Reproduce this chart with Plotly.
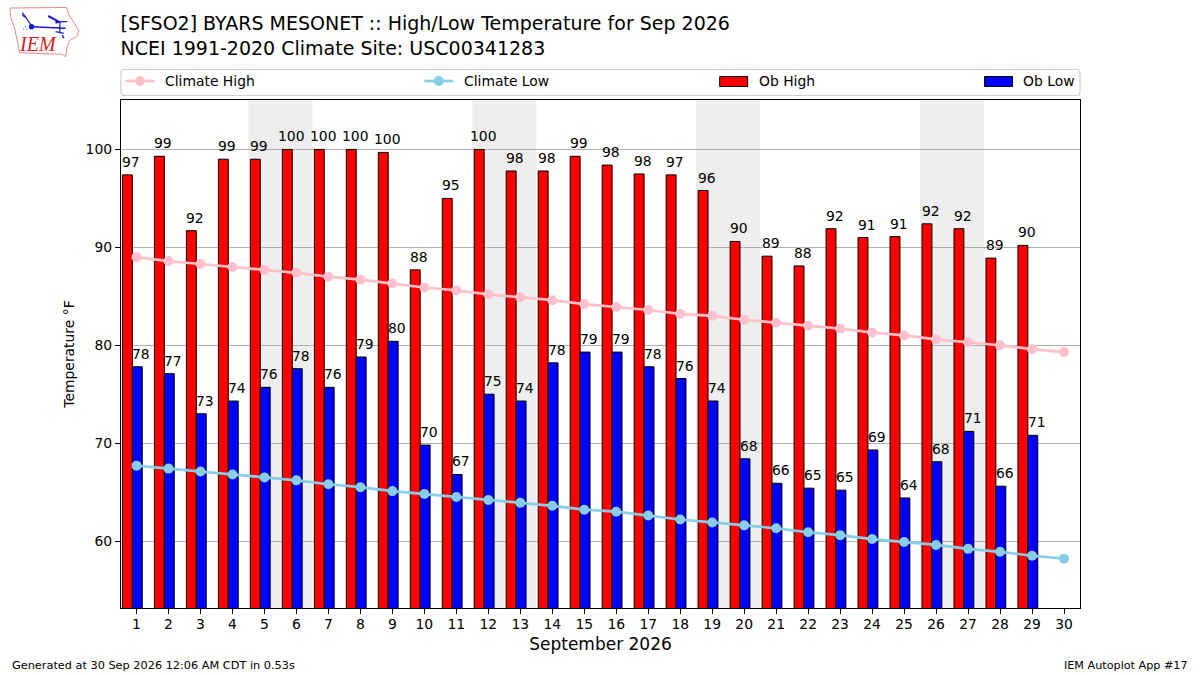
import plotly.graph_objects as go

days = list(range(1, 31))
obs_days = list(range(1, 30))
ob_high = [97.4, 99.3, 91.7, 99.0, 99.0, 100.0, 100.0, 100.0, 99.7, 87.7, 95.0, 100.0, 97.8, 97.8, 99.3,
           98.4, 97.5, 97.4, 95.8, 90.6, 89.1, 88.1, 91.9, 91.0, 91.1, 92.4, 91.9, 88.9, 90.2]
ob_low = [77.8, 77.1, 73.0, 74.3, 75.7, 77.6, 75.7, 78.8, 80.4, 69.8, 66.8, 75.0, 74.3, 78.2, 79.3,
          79.3, 77.8, 76.6, 74.3, 68.4, 65.9, 65.4, 65.2, 69.3, 64.4, 68.1, 71.2, 65.6, 70.8]
high_labels = [97, 99, 92, 99, 99, 100, 100, 100, 100, 88, 95, 100, 98, 98, 99,
               98, 98, 97, 96, 90, 89, 88, 92, 91, 91, 92, 92, 89, 90]
low_labels = [78, 77, 73, 74, 76, 78, 76, 79, 80, 70, 67, 75, 74, 78, 79,
              79, 78, 76, 74, 68, 66, 65, 65, 69, 64, 68, 71, 66, 71]
climate_high = [89.0, 88.6, 88.3, 88.0, 87.7, 87.4, 87.0, 86.7, 86.3, 85.9, 85.6, 85.2, 84.9, 84.6, 84.2,
                83.9, 83.6, 83.2, 83.0, 82.6, 82.3, 82.0, 81.7, 81.3, 81.0, 80.6, 80.3, 80.0, 79.6, 79.3]
climate_low = [67.7, 67.4, 67.1, 66.8, 66.5, 66.2, 65.8, 65.5, 65.1, 64.8, 64.5, 64.2, 63.9, 63.6, 63.2,
               63.0, 62.6, 62.2, 61.9, 61.6, 61.3, 60.9, 60.6, 60.2, 59.9, 59.6, 59.2, 58.9, 58.5, 58.2]
weekend_spans = [(4.5, 6.5), (11.5, 13.5), (18.5, 20.5), (25.5, 27.5)]
y_ticks = [60, 70, 80, 90, 100]

FONT = "DejaVu Sans"
PINK, SKY, RED, BLUE = "#ffc0cb", "#87ceeb", "#ff0000", "#0000ff"
W, H = 1200, 675
L, R, T, B = 120.5, 1080, 100, 608


def px(x):
    return (x - L) / (R - L)


def py(y):
    return (B - y) / (B - T)


def path(points, close=False):
    s = "M" + " L".join(f"{px(x):.5f},{py(y):.5f}" for x, y in points)
    return s + (" Z" if close else "")


def paper_shape(**kw):
    fig.add_shape(xref="paper", yref="paper", **kw)


def paper_text(x, y, text, size=13.9, anchor="left", color="black", family=FONT):
    fig.add_annotation(xref="paper", yref="paper", x=px(x), y=py(y), text=text, showarrow=False,
                       xanchor=anchor, yanchor="middle", font=dict(family=family, size=size, color=color))


fig = go.Figure()
fig.add_trace(go.Bar(x=obs_days, y=ob_high, name="Ob High", offset=-0.44, width=0.31,
                     marker=dict(color=RED, line=dict(color="black", width=1))))
fig.add_trace(go.Bar(x=obs_days, y=ob_low, name="Ob Low", offset=-0.13, width=0.31,
                     marker=dict(color=BLUE, line=dict(color="black", width=1))))
fig.add_trace(go.Scatter(x=days, y=climate_high, name="Climate High", mode="lines+markers",
                         line=dict(color=PINK, width=2.7), marker=dict(color=PINK, size=10)))
fig.add_trace(go.Scatter(x=days, y=climate_low, name="Climate Low", mode="lines+markers",
                         line=dict(color=SKY, width=2.7), marker=dict(color=SKY, size=10)))

for d, v, t in zip(obs_days, ob_high, high_labels):
    fig.add_annotation(x=d - 0.16, y=v, text=str(t), showarrow=False, yanchor="bottom", yshift=3,
                       font=dict(family=FONT, size=13.9, color="black"))
for d, v, t in zip(obs_days, ob_low, low_labels):
    fig.add_annotation(x=d + 0.15, y=v, text=str(t), showarrow=False, yanchor="bottom", yshift=3,
                       font=dict(family=FONT, size=13.9, color="black"))

for a, b in weekend_spans:
    fig.add_shape(type="rect", x0=a, x1=b, yref="paper", y0=0, y1=1, fillcolor="#eeeeee",
                  line_width=0, layer="below")

# legend: frame with rounded corners, line + marker handles, filled swatches
fx0, fx1, fy0, fy1, r = 120.5, 1080, 69.5, 95.5, 3
frame = (f"M{px(fx0 + r)},{py(fy0)} L{px(fx1 - r)},{py(fy0)} Q{px(fx1)},{py(fy0)} {px(fx1)},{py(fy0 + r)} "
         f"L{px(fx1)},{py(fy1 - r)} Q{px(fx1)},{py(fy1)} {px(fx1 - r)},{py(fy1)} L{px(fx0 + r)},{py(fy1)} "
         f"Q{px(fx0)},{py(fy1)} {px(fx0)},{py(fy1 - r)} L{px(fx0)},{py(fy0 + r)} Q{px(fx0)},{py(fy0)} {px(fx0 + r)},{py(fy0)} Z")
paper_shape(type="path", path=frame, line=dict(color="#d0d0d0", width=1.2), fillcolor="white")
for x0, color, name, tx in [(125, PINK, "Climate High", 162.5), (424, SKY, "Climate Low", 462)]:
    paper_shape(type="line", x0=px(x0), x1=px(x0 + 29), y0=py(81), y1=py(81), line=dict(color=color, width=2.7))
    paper_shape(type="circle", x0=px(x0 + 9.5), x1=px(x0 + 19.5), y0=py(86), y1=py(76), fillcolor=color, line_width=0)
    paper_text(tx, 81, name)
for x0, color, name, tx in [(719.5, RED, "Ob High", 756.5), (984.5, BLUE, "Ob Low", 1021)]:
    paper_shape(type="rect", x0=px(x0), x1=px(x0 + 28), y0=py(86.5), y1=py(76.5), fillcolor=color,
                line=dict(color="black", width=1))
    paper_text(tx, 81, name)

# logo
outline = [(9.3, 8), (66, 7.5), (68.3, 15), (74, 23.3), (78.3, 30.7), (76.7, 36), (69, 40.7), (66.7, 46.7),
           (65, 56.7), (61.7, 54.3), (19, 52.7), (17.3, 43.3), (14, 28.3), (10, 16.7)]
paper_shape(type="path", path=path(outline, True), line=dict(color="#e88a8a", width=1), fillcolor="white")
for pts, w in [([(31, 26.7), (65, 28.3)], 1.6), ([(21.7, 12.7), (26, 18.3), (31, 26)], 1.2), ([(21.7, 15), (25, 17.5)], 1.2),
               ([(55, 21.7), (66.7, 21.7)], 1.2), ([(47.7, 16), (58.3, 21.7), (55, 22.7)], 2),
               ([(59.3, 21.7), (59.3, 33.3)], 1.2), ([(55, 31.7), (63.3, 33.3)], 1.2), ([(61.7, 35), (63.3, 38.3)], 1.4),
               ([(23, 29.3), (23.6, 29.3)], 1.6), ([(26, 29.3), (26.6, 29.3)], 1.6), ([(24.7, 26.7), (25.3, 26.7)], 1.6)]:
    paper_shape(type="path", path=path(pts), line=dict(color="#1a1ad6", width=w))
paper_shape(type="circle", x0=px(28.3), x1=px(33.7), y0=py(29.4), y1=py(24), fillcolor="#1a1ad6", line_width=0)
paper_text(37.5, 44, "<i>IEM</i>", size=20, anchor="center", color="#d62020", family="Liberation Serif")

# footers
paper_text(9.5, 665, "Generated at 30 Sep 2026 12:06 AM CDT in 0.53s", size=11.3)
paper_text(1190, 665, "IEM Autoplot App #17", size=11.2, anchor="right")

fig.update_layout(
    width=W, height=H, autosize=False, showlegend=False,
    margin=dict(l=L, r=W - R, t=T, b=H - B, pad=0),
    paper_bgcolor="white", plot_bgcolor="white",
    barmode="overlay",
    font=dict(family=FONT, size=13.9, color="black"),
    title=dict(text="[SFSO2] BYARS MESONET :: High/Low Temperature for Sep 2026<br>NCEI 1991-2020 Climate Site: USC00341283",
               x=L / W, xanchor="left", xref="container", y=1 - 30 / H, yanchor="top",
               font=dict(family=FONT, size=19, color="black")),
    xaxis=dict(range=[0.515, 30.5], tickmode="array", tickvals=days, ticktext=[str(d) for d in days],
               ticks="outside", ticklen=5, tickwidth=1, tickcolor="black", showgrid=False, zeroline=False,
               showline=True, linecolor="black", linewidth=1.2, mirror=True, ticklabelstandoff=-2,
               tickfont=dict(family=FONT, size=13.9),
               title=dict(text="September 2026", font=dict(family=FONT, size=17), standoff=7)),
    yaxis=dict(range=[53.16, 105.05], tickmode="array", tickvals=y_ticks, ticktext=[str(v) for v in y_ticks],
               ticks="outside", ticklen=5, tickwidth=1, tickcolor="black", showgrid=True, gridcolor="#b0b0b0",
               gridwidth=1, zeroline=False, showline=True, linecolor="black", linewidth=1.2, mirror=True,
               tickfont=dict(family=FONT, size=13.9),
               title=dict(text="Temperature °F", font=dict(family=FONT, size=13.9), standoff=7)),
)
fig.write_html("out.html", config={"displayModeBar": False},
               post_script="document.body.style.margin='0';document.documentElement.style.overflow='hidden';")
